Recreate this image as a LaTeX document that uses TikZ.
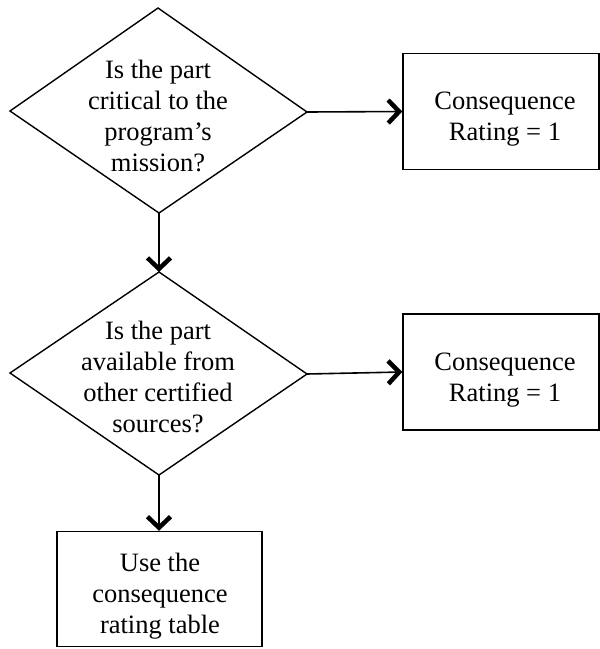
\documentclass[tikz,border=0pt]{standalone}
\usepackage{fontspec}
\setmainfont{Liberation Serif}
\usetikzlibrary{arrows.meta}
\begin{document}
\begin{tikzpicture}[x=1pt,y=-1pt,
  every node/.style={font=\fontsize{26.5}{31}\selectfont, align=center, inner sep=0pt},
  edge/.style={line width=1.4pt, line join=miter},
  outcome/.style={draw, line width=1.4pt, rectangle, minimum width=196pt, minimum height=116pt},
  flow/.style={line width=1.6pt, -{Straight Barb[length=11pt,width=23pt,line width=4.5pt]}}]
  \useasboundingbox (0,0) rectangle (600,649);
  % first decision
  \coordinate (q1n) at (158,8);
  \coordinate (q1e) at (307,112);
  \coordinate (q1s) at (159,213);
  \coordinate (q1w) at (10,111);
  \draw[edge] (q1n) -- (q1e) -- (q1s) -- (q1w) -- cycle;
  \node (q1) at (158,116) {Is the part\\critical to the\\program’s\\mission?};
  % second decision
  \coordinate (q2n) at (159,272);
  \coordinate (q2e) at (307,374);
  \coordinate (q2s) at (159,475);
  \coordinate (q2w) at (10,373);
  \draw[edge] (q2n) -- (q2e) -- (q2s) -- (q2w) -- cycle;
  \node (q2) at (158,377) {Is the part\\available from\\other certified\\sources?};
  % outcomes
  \node[outcome] (r1) at (501,111.5) {};
  \node (r1t) at (505,119) {Consequence\\Rating = 1};
  \node[outcome] (r2) at (501,372) {};
  \node (r2t) at (505,380) {Consequence\\Rating = 1};
  \node[outcome, minimum width=205pt, minimum height=115pt] (t) at (159.5,589) {};
  \node (tt) at (160,596) {Use the\\consequence\\rating table};
  % connectors
  \draw[flow] (q1e) -- (r1.west);
  \draw[flow] (q1s) -- (q2n);
  \draw[flow] (q2e) -- (r2.west);
  \draw[flow] (q2s) -- (q2s |- t.north);
\end{tikzpicture}
\end{document}
